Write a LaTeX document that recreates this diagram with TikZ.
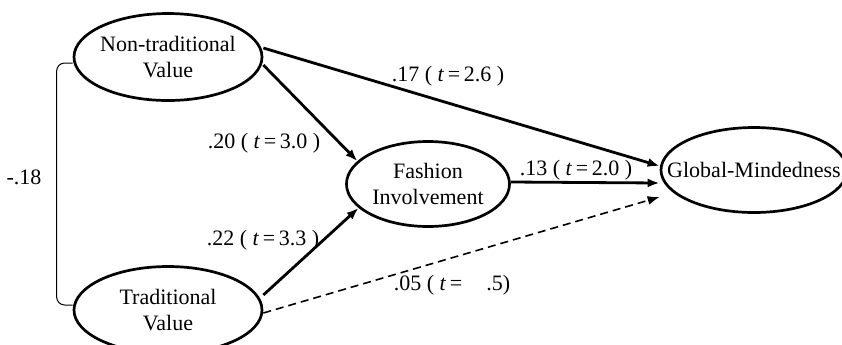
\documentclass[tikz,border=0pt]{standalone}
\usepackage{fontspec}
\setmainfont{Liberation Serif}
\usetikzlibrary{shapes.geometric}
\usetikzlibrary{arrows.meta}

\tikzset{
	latent/.style={ellipse, draw, line width=1.35pt, inner sep=0pt},
	effect/.style={line width=1.4pt, -{Latex[length=6pt, width=4.5pt]}},
	weakeffect/.style={line width=0.8pt, dash pattern=on 4pt off 2.5pt, -{Latex[length=6pt, width=4.5pt]}},
	coef/.style={inner sep=0pt},
	varlabel/.style={label={[coef, align=center]center:#1}}
}

\begin{document}
\begin{tikzpicture}[x=0.5pt, y=-0.5pt, font=\fontsize{11}{13}\selectfont]
				\clip (0,0) rectangle (842,344);
				\node[latent, minimum width=94pt, minimum height=43.5pt, varlabel={Non-traditional\\Value}] (ntv) at (168,57) {};
				\node[latent, minimum width=94pt, minimum height=43.5pt, varlabel={Traditional\\Value}] (tv) at (168,310) {};
				\node[latent, minimum width=81.5pt, minimum height=42.5pt, varlabel={Fashion\\Involvement}] (fi) at (428,184) {};
				\node[latent, minimum width=93pt, minimum height=42.5pt, varlabel={Global-Mindedness}] (gm) at (754,170) {};
				% correlation
				\draw[line width=0.5pt, rounded corners=4pt] ([yshift=-3pt]ntv.west) -- ++(-16,0) |- ([yshift=2.5pt]tv.west);
				\node[coef] (r) at (24,177) {-.18};
				% paths
				\draw[effect] ([yshift=4.5pt]ntv.east) -- ([yshift=2pt]gm.west);
				\draw[effect] ([yshift=-4pt]ntv.east) -- (fi.162);
				\draw[effect] ([yshift=7.5pt]tv.east) -- (fi.199);
				\draw[effect] ([yshift=1pt]fi.east) -- ([yshift=-6.5pt]gm.west);
				\draw[weakeffect] ([yshift=-1.5pt]tv.east) -- ([yshift=-13.5pt]gm.west);
				\node[coef] (l17) at (448,76) {.17 ( \textit{t}\,=\,2.6 )};
				\node[coef] (l20) at (264,143) {.20 ( \textit{t}\,=\,3.0 )};
				\node[coef] (l22) at (263,240) {.22 ( \textit{t}\,=\,3.3 )};
				\node[coef] (l13) at (576,170) {.13 ( \textit{t}\,=\,2.0 )};
				\node[coef] (l05) at (452,285) {.05 ( \textit{t}\,=\hspace{1.1em}.5)};
			\end{tikzpicture}
\end{document}
